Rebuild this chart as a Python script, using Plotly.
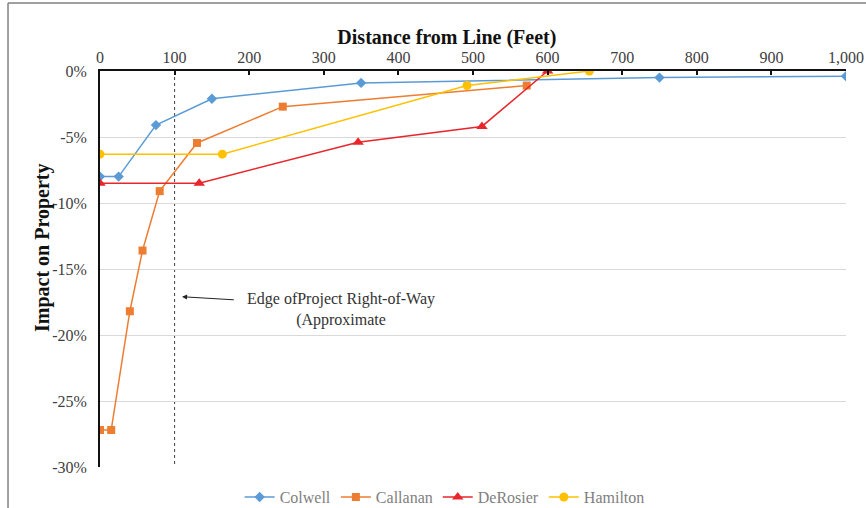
import plotly.graph_objects as go

# Data (distance in feet, impact in percent)
colwell_x = [0, 25, 75, 150, 350, 750, 1000]
colwell_y = [-8.0, -8.0, -4.1, -2.1, -0.9, -0.5, -0.4]

callanan_x = [0, 15, 40, 57, 80, 130, 245, 572]
callanan_y = [-27.2, -27.2, -18.2, -13.6, -9.1, -5.45, -2.7, -1.1]

derosier_x = [0, 133, 346, 512, 600]
derosier_y = [-8.5, -8.5, -5.4, -4.2, 0.0]

hamilton_x = [0, 164, 492, 656]
hamilton_y = [-6.3, -6.3, -1.1, 0.0]

x_ticks = [0, 100, 200, 300, 400, 500, 600, 700, 800, 900, 1000]
y_ticks = [0, -5, -10, -15, -20, -25, -30]
y_ticktext = ["0%", "-5%", "-10%", "-15%", "-20%", "-25%", "-30%"]

row_edge_x = 100

FONT = "Liberation Serif"

fig = go.Figure()
fig.add_trace(go.Scatter(x=colwell_x, y=colwell_y, name="Colwell", mode="lines+markers",
                         line=dict(color="#5B9BD5", width=1.5),
                         marker=dict(symbol="diamond", size=8, color="#5B9BD5")))
fig.add_trace(go.Scatter(x=callanan_x, y=callanan_y, name="Callanan", mode="lines+markers",
                         line=dict(color="#ED7D31", width=1.5),
                         marker=dict(symbol="square", size=8, color="#ED7D31")))
fig.add_trace(go.Scatter(x=derosier_x, y=derosier_y, name="DeRosier", mode="lines+markers",
                         line=dict(color="#E8262B", width=1.5),
                         marker=dict(symbol="triangle-up", size=10, color="#E8262B")))
fig.add_trace(go.Scatter(x=hamilton_x, y=hamilton_y, name="Hamilton", mode="lines+markers",
                         line=dict(color="#FFC000", width=1.5),
                         marker=dict(symbol="circle", size=9, color="#FFC000")))

# Vertical dotted right-of-way line
fig.add_shape(type="line", x0=row_edge_x, x1=row_edge_x, y0=0, y1=-30, xref="x", yref="y",
              line=dict(color="#404040", width=1, dash="dot"), layer="below")

# Arrow
fig.add_annotation(x=110, y=-17.1, ax=184, ay=-17.35, axref="x", ayref="y", xref="x", yref="y",
                   text=" ", showarrow=True, arrowhead=2, arrowsize=1, arrowwidth=1,
                   arrowcolor="#222222", standoff=0, startstandoff=0)
fig.add_annotation(x=323, y=-18.1, xref="x", yref="y", showarrow=False,
                   text="Edge ofProject Right-of-Way<br>(Approximate",
                   font=dict(family=FONT, size=16, color="#333333"), align="center")

# Y-axis title
fig.add_annotation(xref="paper", yref="paper", x=-0.078, y=0.555, textangle=-90, showarrow=False,
                   xanchor="center", yanchor="middle",
                   text="<b>Impact on Property</b>", font=dict(family=FONT, size=20, color="#111111"))

# Chart frame lines
fig.add_shape(type="line", xref="paper", yref="paper", x0=-0.1233, x1=-0.1233, y0=-0.2, y1=1.172,
              line=dict(color="#808080", width=1.5))
fig.add_shape(type="line", xref="paper", yref="paper", x0=-0.1233, x1=1.1, y0=1.172, y1=1.172,
              line=dict(color="#808080", width=1.5))

fig.update_layout(
    width=866, height=508,
    margin=dict(l=100, r=20, t=71, b=41, autoexpand=False),
    paper_bgcolor="white", plot_bgcolor="white",
    font=dict(family=FONT, size=15, color="#404040"),
    title=dict(text="<b>Distance from Line (Feet)</b>", x=0.516, xref="container", xanchor="center",
               y=0.927, yref="container", yanchor="middle",
               font=dict(family=FONT, size=20, color="#111111")),
    showlegend=True,
    legend=dict(orientation="h", x=0.462, xanchor="center", y=-0.076, yanchor="middle",
                font=dict(family=FONT, size=16, color="#808080"), bgcolor="rgba(0,0,0,0)",
                itemwidth=30),
    xaxis=dict(range=[0, 1000], side="top", tickvals=x_ticks, tickformat=",",
               showline=True, linecolor="#111111", linewidth=2, showgrid=False, zeroline=False,
               ticks="inside", ticklen=4, tickcolor="#111111", tickwidth=1.5, automargin=False,
               tickfont=dict(family=FONT, size=16, color="#404040")),
    yaxis=dict(range=[-30, 0], tickvals=y_ticks, ticktext=y_ticktext, automargin=False,
               showline=True, linecolor="#111111", linewidth=2, mirror=False,
               showgrid=True, gridcolor="#D9D9D9", gridwidth=1, zeroline=False,
               ticks="", ticklabelstandoff=8,
               tickfont=dict(family=FONT, size=16, color="#404040")),
)

fig.write_html("out.html", config={"displayModeBar": False},
               post_script="document.body.style.margin='0';document.body.style.overflow='hidden';")
